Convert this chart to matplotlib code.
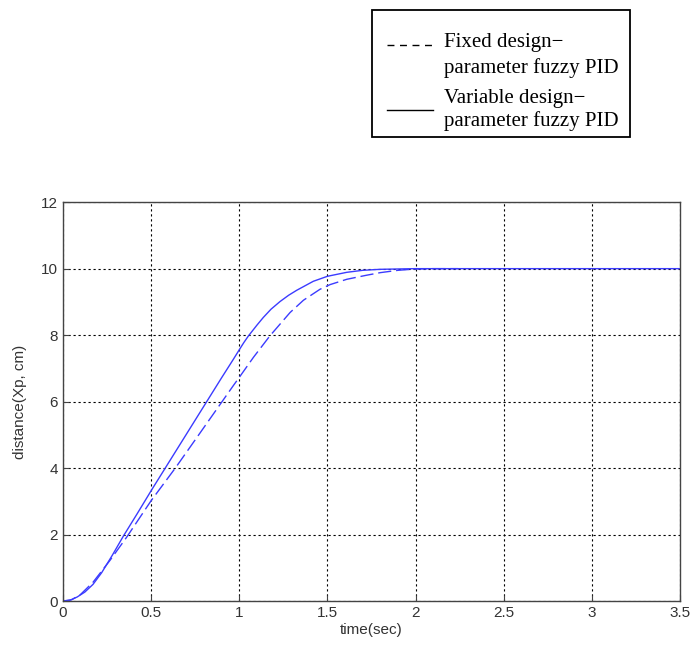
import matplotlib.pyplot as plt
from matplotlib.lines import Line2D
from matplotlib.patches import Rectangle

# solid: variable design-parameter fuzzy PID
t_var = [0, 0.038, 0.08, 0.124, 0.17, 0.219, 0.28, 0.342, 0.42, 0.5, 0.58, 0.7, 0.8,
         0.9, 0.966, 1.0, 1.025, 1.051, 1.1, 1.136, 1.18, 1.231, 1.28, 1.326, 1.42, 1.5,
         1.61, 1.7, 1.8, 1.9, 2.0, 2.5, 3.0, 3.5]
x_var = [0, 0.02, 0.12, 0.27, 0.5, 0.85, 1.38, 1.95, 2.62, 3.32, 4.0, 5.02, 5.87,
         6.72, 7.27, 7.56, 7.77, 7.97, 8.3, 8.53, 8.78, 9.01, 9.2, 9.35, 9.62, 9.77,
         9.89, 9.95, 9.98, 9.99, 10, 10, 10, 10]

# dashed: fixed design-parameter fuzzy PID
t_fix = [0, 0.05, 0.1, 0.171, 0.266, 0.361, 0.5, 0.637, 0.75, 0.852, 0.966, 1.004,
         1.08, 1.174, 1.288, 1.364, 1.458, 1.515, 1.61, 1.72, 1.8, 1.9, 2.0, 2.1, 2.24]
x_fix = [0, 0.04, 0.2, 0.57, 1.22, 1.92, 3.02, 4.0, 4.85, 5.62, 6.48, 6.76,
         7.33, 7.98, 8.68, 9.05, 9.38, 9.52, 9.68, 9.8, 9.88, 9.95, 9.99, 10, 10]

x_ticks = [0, 0.5, 1, 1.5, 2, 2.5, 3, 3.5]
x_tick_labels = ['0', '0.5', '1', '1.5', '2', '2.5', '3', '3.5']
y_ticks = [0, 2, 4, 6, 8, 10, 12]
legend_lines = [['Fixed design\u2212', 'parameter fuzzy PID'],
                ['Variable design\u2212', 'parameter fuzzy PID']]

plt.rcParams['font.family'] = ['Liberation Sans', 'DejaVu Sans']

W, H = 697, 648
fig = plt.figure(figsize=(W / 100, H / 100), dpi=100)
ax = fig.add_axes([0.0904, 0.0725, 0.8852, 0.6155])

ax.plot(t_fix, x_fix, color='#3b3bff', lw=1.0, ls=(0, (9.5, 3.5)))
ax.plot(t_var, x_var, color='#3b3bff', lw=1.0)

ax.set_xlim(0, 3.5)
ax.set_ylim(0, 12)
ax.set_xticks(x_ticks)
ax.set_xticklabels(x_tick_labels)
ax.set_yticks(y_ticks)
ax.grid(True, color='black', ls=(0, (2, 2.5)), lw=0.8)
ax.tick_params(direction='in', length=4, labelsize=11, labelcolor='#333333', color='#444444')
for s in ax.spines.values():
    s.set_color('#444444')
    s.set_linewidth(1.0)

ax.set_xlabel('time(sec)', fontsize=11, color='#333333', labelpad=2)
ax.set_ylabel('distance(Xp, cm)', fontsize=11, color='#333333', labelpad=10)


# legend box drawn by hand (pixel positions from the top-left corner)
def fx(px):
    return px / W


def fy(py):
    return 1 - py / H


fig.add_artist(Rectangle((fx(372), fy(137)), fx(630) - fx(372), fy(10) - fy(137),
                         transform=fig.transFigure, facecolor='white',
                         edgecolor='black', lw=1.3))
sample_styles = [(0, (5, 4)), '-']
sample_y = [45, 110]
baselines = [[47, 73], [103, 126]]
for style, sy, base, lines in zip(sample_styles, sample_y, baselines, legend_lines):
    fig.add_artist(Line2D([fx(387), fx(433)], [fy(sy), fy(sy)], transform=fig.transFigure,
                          color='black', lw=1.0, ls=style))
    for b, txt in zip(base, lines):
        fig.text(fx(444), fy(b), txt, family='Liberation Serif', fontsize=15,
                 va='baseline', ha='left')

fig.savefig('out.png', dpi=100)
